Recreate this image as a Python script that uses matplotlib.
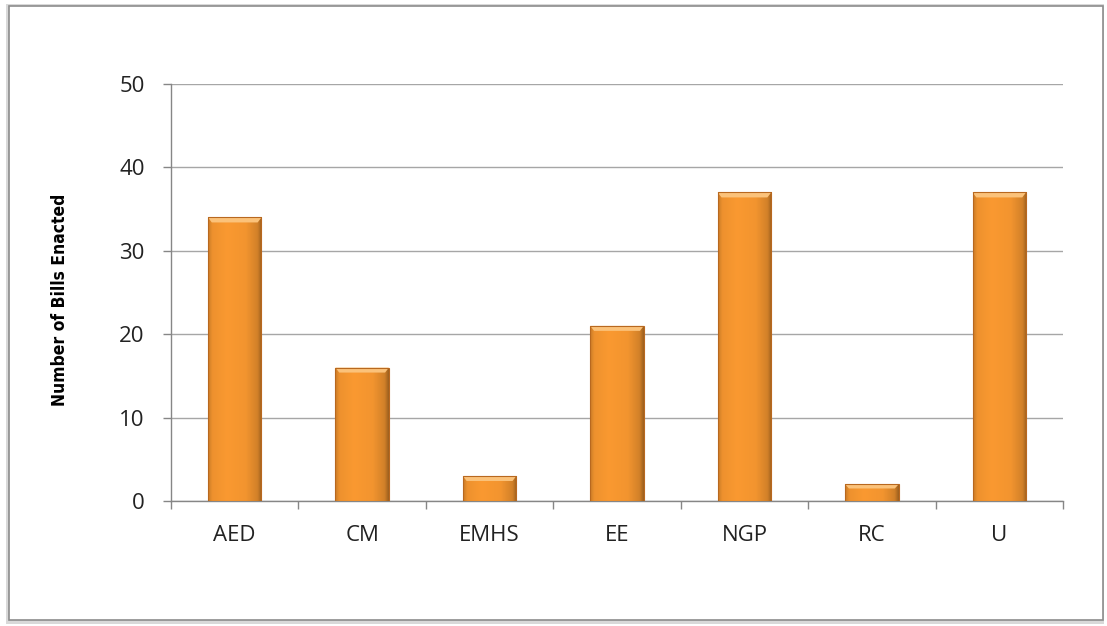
import numpy as np
import matplotlib
matplotlib.use("Agg")
import matplotlib.pyplot as plt
from matplotlib.patches import Rectangle, Polygon

# bills enacted per category
categories = ["AED", "CM", "EMHS", "EE", "NGP", "RC", "U"]
bills = [34, 16, 3, 21, 37, 2, 37]
yticks = [0, 10, 20, 30, 40, 50]

W, H = 1107, 626
fig = plt.figure(figsize=(W / 100, H / 100), dpi=100)

# outer chart frame with a soft shadow on the left/top
fig.patches.append(Rectangle((6 / W, 1 - 624 / H), 1098 / W, 620 / H, transform=fig.transFigure,
                             facecolor="#d9d9d9", edgecolor="none", zorder=0))
fig.patches.append(Rectangle((9 / W, 1 - 620 / H), 1094 / W, 614 / H, transform=fig.transFigure,
                             facecolor="white", edgecolor="#8c8c8c", linewidth=1.2, zorder=1))

ax = fig.add_axes([171 / W, 1 - 501 / H, (1063 - 171) / W, (501 - 84) / H])
ax.set_zorder(2)
ax.patch.set_alpha(0)

x = np.arange(len(categories))
bw = 0.42
bars = ax.bar(x, bills, width=bw, color="#f39a3a", edgecolor="none", zorder=3)

# horizontal shading across each bar
grad = np.linspace(0, 1, 256)
shade = np.interp(grad, [0, 0.08, 0.35, 0.7, 0.92, 1.0], [0.80, 0.95, 1.0, 0.97, 0.84, 0.62])
base = np.array([0.98, 0.60, 0.19])
img = (base[None, :] * shade[:, None])
img = np.clip(img, 0, 1)[None, :, :]
for b, v in zip(bars, bills):
    x0 = b.get_x()
    im = ax.imshow(img, extent=[x0, x0 + bw, 0, v], aspect="auto", zorder=3.5,
                   interpolation="bilinear")
    im.set_clip_path(b)
    # bevelled top edge
    bev = min(0.6, v * 0.25)
    ax.add_patch(Polygon([[x0, v], [x0 + bw, v], [x0 + bw - 0.03, v - bev], [x0 + 0.03, v - bev]],
                         closed=True, facecolor="#fbc27a", edgecolor="none", zorder=4))
    ax.add_patch(Rectangle((x0, 0), bw, v, facecolor="none", edgecolor="#b8681f",
                           linewidth=0.8, zorder=4.5))

ax.set_xlim(-0.5, len(categories) - 0.5)
ax.set_ylim(0, 50)
ax.set_yticks(yticks)
ax.set_xticks(x)
ax.set_xticklabels(categories)
ax.set_xticks(np.arange(-0.5, len(categories)), minor=True)
ax.tick_params(axis="x", which="major", length=0, pad=17)
ax.tick_params(axis="x", which="minor", length=6, color="#868686", width=1)
ax.tick_params(axis="y", length=6, color="#868686", width=1, pad=13)
ax.grid(axis="y", color="#a6a6a6", linewidth=1, zorder=1)
for s in ["top", "right"]:
    ax.spines[s].set_visible(False)
for s in ["left", "bottom"]:
    ax.spines[s].set_color("#868686")
    ax.spines[s].set_linewidth(1)

for lab in ax.get_xticklabels() + ax.get_yticklabels():
    lab.set_fontfamily(["Open Sans", "DejaVu Sans"])
    lab.set_fontsize(16)
    lab.set_color("#222222")

fig.text(60 / W, 1 - 300 / H, "Number of Bills Enacted", rotation=90, ha="center", va="center",
         fontsize=12.5, fontweight="bold", fontstretch="condensed", family="DejaVu Sans")

fig.savefig("out.png", dpi=100)
